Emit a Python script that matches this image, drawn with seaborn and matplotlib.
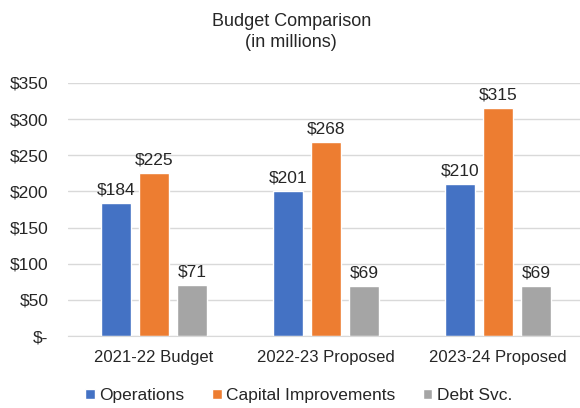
import pandas as pd
import matplotlib
matplotlib.use("Agg")
import matplotlib.pyplot as plt
import seaborn as sns

# chart data
years = ["2021-22 Budget", "2022-23 Proposed", "2023-24 Proposed"]
series = ["Operations", "Capital Improvements", "Debt Svc."]
operations = [184, 201, 210]
capital = [225, 268, 315]
debt = [71, 69, 69]
yticks = [0, 50, 100, 150, 200, 250, 300, 350]
ytick_labels = ["$-", "$50", "$100", "$150", "$200", "$250", "$300", "$350"]

df = pd.DataFrame({
    "year": years * 3,
    "series": [series[0]] * 3 + [series[1]] * 3 + [series[2]] * 3,
    "value": operations + capital + debt,
})

sns.set_style("white")
plt.rcParams["font.family"] = ["Liberation Sans", "DejaVu Sans"]

colors = ["#4472C4", "#ED7D31", "#A5A5A5"]
txt = "#262626"

fig = plt.figure(figsize=(5.8, 4.08), dpi=100)
ax = fig.add_axes([0.117, 0.176, 0.89, 0.621])
sns.barplot(data=df, x="year", y="value", hue="series", palette=colors,
            width=0.663, gap=0.21, ax=ax, saturation=1)

for cont in ax.containers:
    ax.bar_label(cont, labels=[f"${v:.0f}" for v in cont.datavalues],
                 padding=4, fontsize=12.5, color=txt)

ax.set_ylim(0, 350)
ax.set_yticks(yticks)
ax.set_yticklabels(ytick_labels)
ax.yaxis.grid(True, color="#d9d9d9", linewidth=1)
ax.set_axisbelow(True)
ax.tick_params(axis="both", colors=txt, length=0)
ax.tick_params(axis="y", labelsize=12.5, pad=14)
ax.tick_params(axis="x", labelsize=12, pad=10)
ax.set_xlabel("")
ax.set_ylabel("")
for s in ["top", "right", "left"]:
    ax.spines[s].set_visible(False)
ax.spines["bottom"].set_color("#d9d9d9")

fig.suptitle("Budget Comparison\n(in millions)", x=0.502, y=0.968, fontsize=13,
             color=txt, linespacing=1.3, va="top")

fig.legend(*ax.get_legend_handles_labels(), loc="center", bbox_to_anchor=(0.515, 0.03),
           ncol=3, frameon=False, fontsize=12.5, handlelength=0.55, handleheight=0.55,
           handletextpad=0.25, columnspacing=1.6, labelcolor=txt)
ax.get_legend().remove()

fig.savefig("out.png", dpi=100)
